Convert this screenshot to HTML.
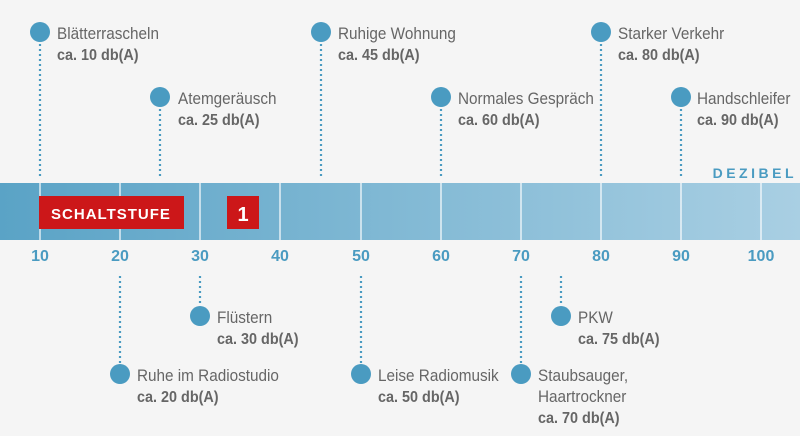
<!DOCTYPE html>
<html><head><meta charset="utf-8"><style>
html,body{margin:0;padding:0;background:#f5f5f5;}
svg{display:block}
.l{font-family:"Liberation Sans",sans-serif;font-size:17px;fill:#666}
.b{font-family:"Liberation Sans",sans-serif;font-size:16px;font-weight:bold;fill:#666}
.t{font-family:"Liberation Sans",sans-serif;font-size:16px;font-weight:bold;fill:#4a9bc1}
</style></head><body>
<svg width="800" height="436" viewBox="0 0 800 436" xmlns="http://www.w3.org/2000/svg">
<defs><linearGradient id="g" x1="0" x2="1" y1="0" y2="0"><stop offset="0" stop-color="#5aa3c6"/><stop offset="1" stop-color="#a9cfe3"/></linearGradient></defs>
<rect x="0" y="183" width="800" height="57" fill="url(#g)"/>
<g stroke="#fff" stroke-width="1.2">
<line x1="40" y1="183" x2="40" y2="240"/><line x1="120" y1="183" x2="120" y2="240"/><line x1="200" y1="183" x2="200" y2="240"/><line x1="280" y1="183" x2="280" y2="240"/><line x1="361" y1="183" x2="361" y2="240"/><line x1="441" y1="183" x2="441" y2="240"/><line x1="521" y1="183" x2="521" y2="240"/><line x1="601" y1="183" x2="601" y2="240"/><line x1="681" y1="183" x2="681" y2="240"/><line x1="761" y1="183" x2="761" y2="240"/>
</g>
<rect x="39" y="196" width="145" height="33" fill="#cc1719"/>
<text x="111" y="219" text-anchor="middle" font-family="Liberation Sans,sans-serif" font-weight="bold" font-size="15" letter-spacing="1" fill="#fff">SCHALTSTUFE</text>
<rect x="227" y="196" width="32" height="33" fill="#cc1719"/>
<text x="243" y="221" text-anchor="middle" font-family="Liberation Sans,sans-serif" font-weight="bold" font-size="20" fill="#fff">1</text>
<text x="797" y="178" text-anchor="end" font-family="Liberation Sans,sans-serif" font-weight="bold" font-size="14" letter-spacing="3.5" fill="#4a9bc1">DEZIBEL</text>
<g text-anchor="middle">
<text x="40" y="261" class="t">10</text><text x="120" y="261" class="t">20</text><text x="200" y="261" class="t">30</text><text x="280" y="261" class="t">40</text><text x="361" y="261" class="t">50</text><text x="441" y="261" class="t">60</text><text x="521" y="261" class="t">70</text><text x="601" y="261" class="t">80</text><text x="681" y="261" class="t">90</text><text x="761" y="261" class="t">100</text>
</g>
<g stroke="#4a9bc1" stroke-width="2.2" stroke-dasharray="2,3">
<line x1="40" y1="44" x2="40" y2="176"/><line x1="160" y1="109" x2="160" y2="176"/><line x1="321" y1="44" x2="321" y2="176"/><line x1="441" y1="109" x2="441" y2="176"/><line x1="601" y1="44" x2="601" y2="176"/><line x1="681" y1="109" x2="681" y2="176"/>
<line x1="120" y1="276" x2="120" y2="363"/><line x1="200" y1="276" x2="200" y2="305"/><line x1="361" y1="276" x2="361" y2="363"/><line x1="521" y1="276" x2="521" y2="363"/><line x1="561" y1="276" x2="561" y2="305"/>
</g>
<g fill="#4a9bc1">
<circle cx="40" cy="32" r="10"/><circle cx="160" cy="97" r="10"/><circle cx="321" cy="32" r="10"/><circle cx="441" cy="97" r="10"/><circle cx="601" cy="32" r="10"/><circle cx="681" cy="97" r="10"/>
<circle cx="120" cy="374" r="10"/><circle cx="200" cy="316" r="10"/><circle cx="361" cy="374" r="10"/><circle cx="521" cy="374" r="10"/><circle cx="561" cy="316" r="10"/>
</g>
<g transform="translate(57,39) scale(0.9,1)"><text class="l">Blätterrascheln</text><text class="b" y="21">ca. 10 db(A)</text></g>
<g transform="translate(178,104) scale(0.9,1)"><text class="l">Atemgeräusch</text><text class="b" y="21">ca. 25 db(A)</text></g>
<g transform="translate(338,39) scale(0.9,1)"><text class="l">Ruhige Wohnung</text><text class="b" y="21">ca. 45 db(A)</text></g>
<g transform="translate(458,104) scale(0.9,1)"><text class="l">Normales Gespräch</text><text class="b" y="21">ca. 60 db(A)</text></g>
<g transform="translate(618,39) scale(0.9,1)"><text class="l">Starker Verkehr</text><text class="b" y="21">ca. 80 db(A)</text></g>
<g transform="translate(697,104) scale(0.9,1)"><text class="l">Handschleifer</text><text class="b" y="21">ca. 90 db(A)</text></g>
<g transform="translate(137,381) scale(0.9,1)"><text class="l">Ruhe im Radiostudio</text><text class="b" y="21">ca. 20 db(A)</text></g>
<g transform="translate(217,323) scale(0.9,1)"><text class="l">Flüstern</text><text class="b" y="21">ca. 30 db(A)</text></g>
<g transform="translate(378,381) scale(0.9,1)"><text class="l">Leise Radiomusik</text><text class="b" y="21">ca. 50 db(A)</text></g>
<g transform="translate(538,381) scale(0.9,1)"><text class="l">Staubsauger,</text><text class="l" y="21">Haartrockner</text><text class="b" y="42">ca. 70 db(A)</text></g>
<g transform="translate(578,323) scale(0.9,1)"><text class="l">PKW</text><text class="b" y="21">ca. 75 db(A)</text></g>
</svg>
</body></html>
